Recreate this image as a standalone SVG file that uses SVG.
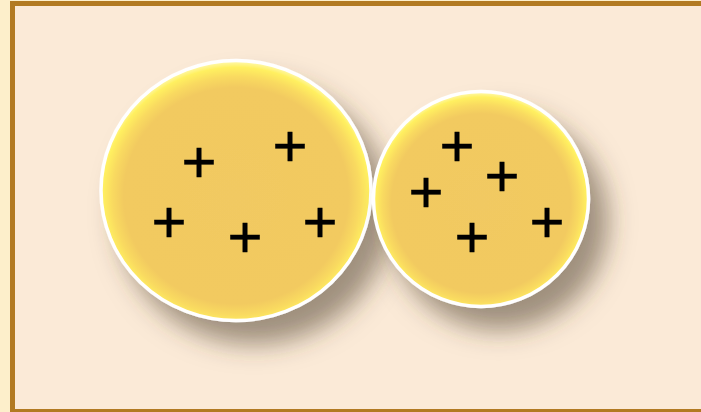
<svg xmlns="http://www.w3.org/2000/svg" width="701" height="412" viewBox="0 0 701 412">
<defs>
<radialGradient id="fillg" cx="0.5" cy="0.52" r="0.52">
<stop offset="0" stop-color="#F1C962"/>
<stop offset="0.8" stop-color="#F2CA60"/>
<stop offset="0.88" stop-color="#F9DA61"/>
<stop offset="0.95" stop-color="#FFF060"/>
<stop offset="1" stop-color="#FFFAB8"/>
</radialGradient>
<filter id="shadow" x="-30%" y="-30%" width="170%" height="170%">
<feDropShadow dx="18" dy="22" stdDeviation="13" flood-color="#4a3c28" flood-opacity="0.52"/>
</filter>
<style>
.ball{fill:url(#fillg);stroke:#FFFFFF;stroke-width:3.5;filter:url(#shadow)}
.plus{font-family:"Liberation Sans",Arial,sans-serif;font-size:60px;fill:#000;stroke:#000;stroke-width:0.5;text-anchor:middle}
</style>
</defs>
<rect x="0" y="0" width="701" height="412" fill="#FDEFCB"/>
<rect x="12.5" y="3.5" width="720" height="408" fill="#FBEAD7" stroke="#B27A22" stroke-width="5"/>
<g id="ion1">
<ellipse class="ball" cx="236" cy="190.5" rx="135" ry="130"/>
<text class="plus" x="199" y="182">+</text>
<text class="plus" x="290" y="166">+</text>
<text class="plus" x="169" y="242">+</text>
<text class="plus" x="245" y="257">+</text>
<text class="plus" x="320" y="242">+</text>
</g>
<g id="ion2">
<circle class="ball" cx="481" cy="199" r="107.5"/>
<text class="plus" x="457" y="166">+</text>
<text class="plus" x="502" y="196">+</text>
<text class="plus" x="426" y="212">+</text>
<text class="plus" x="472" y="257">+</text>
<text class="plus" x="547" y="242">+</text>
</g>
<g id="connectors"/>
</svg>
